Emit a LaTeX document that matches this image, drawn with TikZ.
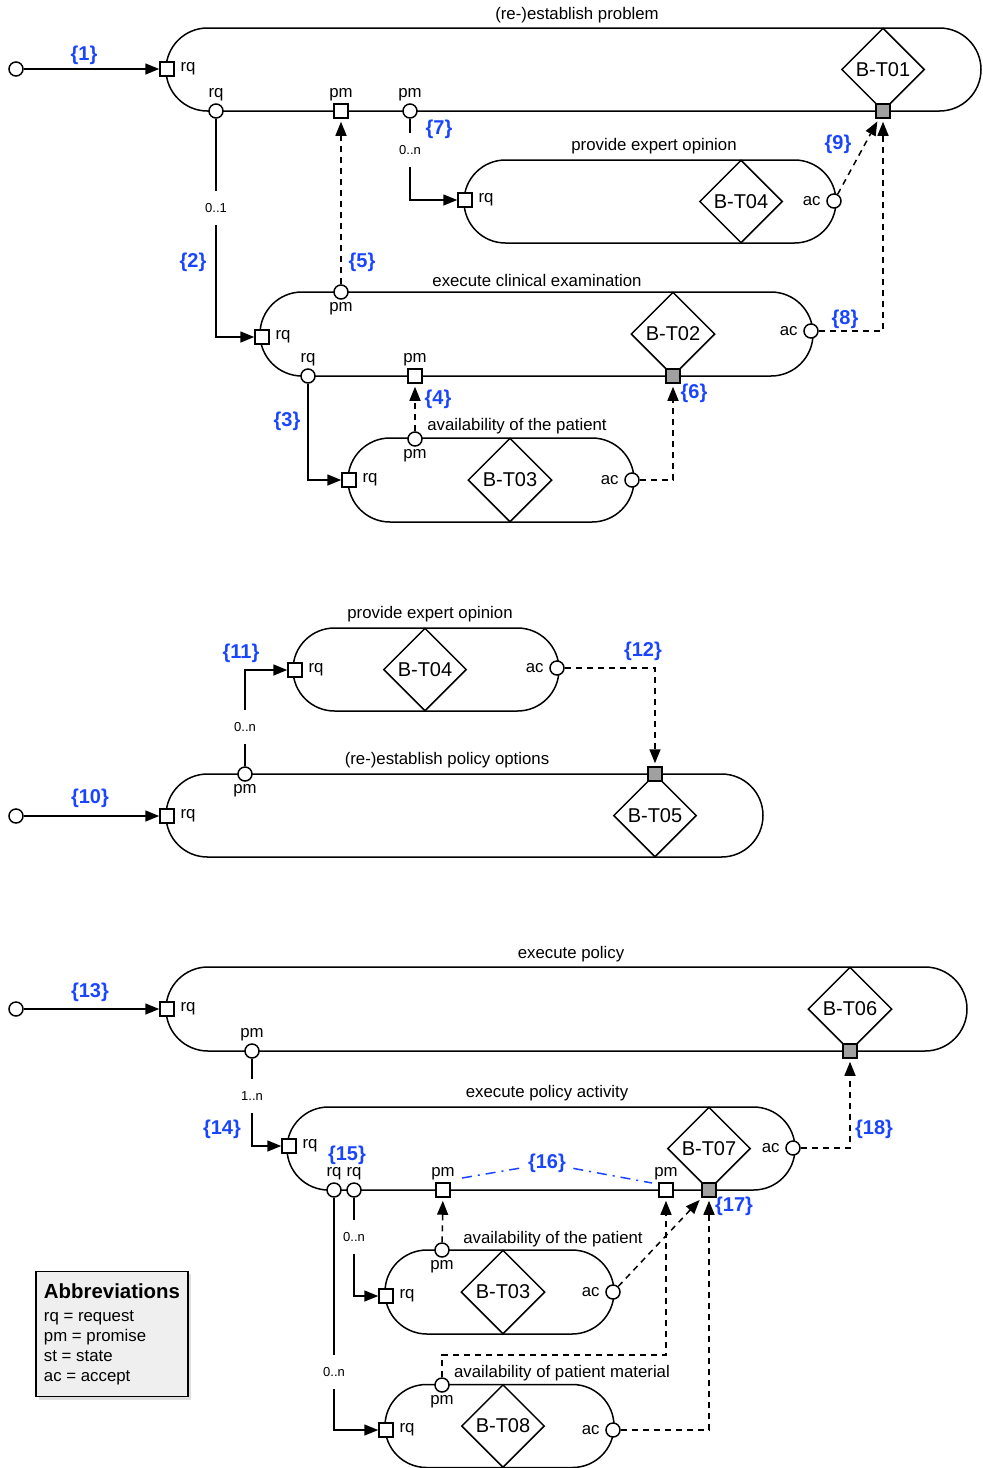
\documentclass[tikz,border=0pt]{standalone}
\usepackage{fontspec}
\setmainfont{Liberation Sans}
\usetikzlibrary{arrows.meta,shapes.geometric,shapes.misc,shadows}
\definecolor{numblue}{HTML}{1A45FF}
\definecolor{portgrey}{HTML}{A0A0A0}
\definecolor{abbrfill}{HTML}{EFEFEF}

\begin{document}
\begin{tikzpicture}[
  x=0.5pt, y=-0.5pt, line width=0.75pt,
  capsule/.style={draw, rounded rectangle, minimum height=41.5pt, inner sep=0pt},
  trans/.style={draw, diamond, minimum width=41.5pt, minimum height=41.5pt, inner sep=0pt,
                font=\fontsize{10}{12}\selectfont},
  port/.style={draw, fill=white, minimum size=7pt, inner sep=0pt},
  gport/.style={port, fill=portgrey},
  cport/.style={port, circle},
  plbl/.style={font=\fontsize{8.4}{10}\selectfont, inner sep=1pt},
  hlbl/.style={plbl, inner xsep=2.5pt},
  ttl/.style={font=\fontsize{8.4}{10}\selectfont},
  num/.style={font=\fontsize{10}{12}\selectfont\bfseries, text=numblue},
  mult/.style={font=\fontsize{6.5}{8}\selectfont, inner xsep=1pt, inner ysep=6pt},
  ar/.style={-{Triangle[length=7pt,width=5.5pt]}},
  dar/.style={ar, dash pattern=on 3pt off 2.5pt, shorten >=1.5pt},
  ddot/.style={numblue, dash pattern=on 5pt off 3pt on 1pt off 3pt},
]
\useasboundingbox (0,0) rectangle (982,1468);

% (re-)establish problem
\node[capsule, minimum width=407.5pt] (c01) at (573.5,69.5) {};
\node[ttl] (t01) at (577,15.5) {(re-)establish problem};
\node[trans] (d01) at (883,69.5) {B-T01};
\node[cport] (s1) at (16,69) {};
\node[port, label={[hlbl]right:rq}] (c01rq) at (167,69) {};
\node[cport, label={[plbl]above:rq}] (c01rqo) at (216,111) {};
\node[port, label={[plbl]above:pm}] (c01pm) at (341,111) {};
\node[cport, label={[plbl]above:pm}] (c01pmo) at (410,111) {};
\node[gport] (c01g) at (883,111) {};

% provide expert opinion
\node[capsule, minimum width=186pt] (c04a) at (650,201.5) {};
\node[ttl] (t04a) at (654,146.5) {provide expert opinion};
\node[trans] (d04a) at (741,201.5) {B-T04};
\node[port, label={[hlbl]right:rq}] (c04arq) at (465,200) {};
\node[cport, label={[hlbl]left:ac}] (c04aac) at (834,201) {};

% execute clinical examination
\node[capsule, minimum width=276.5pt, minimum height=42pt] (c02) at (536.5,334) {};
\node[ttl] (t02) at (537,280) {execute clinical examination};
\node[trans, minimum width=42pt, minimum height=42pt] (d02) at (673,334) {B-T02};
\node[cport, label={[plbl]below:pm}] (c02pm) at (341,292) {};
\node[port, label={[hlbl]right:rq}] (c02rq) at (262,337) {};
\node[cport, label={[plbl]above:rq}] (c02rqo) at (308,376) {};
\node[port, label={[plbl]above:pm}] (c02pms) at (415,376) {};
\node[gport] (c02g) at (673,376) {};
\node[cport, label={[hlbl]left:ac}] (c02ac) at (811,331) {};

% availability of the patient
\node[capsule, minimum width=143pt, minimum height=42pt] (c03a) at (491,480) {};
\node[ttl] (t03a) at (517,426.5) {availability of the patient};
\node[trans, minimum width=42pt, minimum height=42pt] (d03a) at (510,480) {B-T03};
\node[port, label={[hlbl]right:rq}] (c03arq) at (349,480) {};
\node[cport, label={[plbl]below:pm}] (c03apm) at (415,439) {};
\node[cport, label={[hlbl]left:ac}] (c03aac) at (632,480) {};

\node[mult] (m2) at (216,208) {0..1};
\node[mult] (m7) at (410,150) {0..n};

\draw[ar] (s1) -- (c01rq);
\draw (c01rqo) -- (m2);
\draw[ar] (m2) |- (c02rq);
\draw (c01pmo) -- (m7);
\draw[ar] (m7) |- (c04arq);
\draw[dar] (c02pm) -- (c01pm);
\draw[dar] (c04aac) -- (c01g);
\draw[dar] (c02ac) -| (c01g);
\draw[ar] (c02rqo) |- (c03arq);
\draw[dar] (c03apm) -- (c02pms);
\draw[dar] (c03aac) -| (c02g);

\node[num] (n1) at (84,55.5) {\{1\}};
\node[num] (n2) at (193,262.5) {\{2\}};
\node[num] (n3) at (287,421.5) {\{3\}};
\node[num] (n4) at (438,399.5) {\{4\}};
\node[num] (n5) at (362,262.5) {\{5\}};
\node[num] (n6) at (694,393.5) {\{6\}};
\node[num] (n7) at (439,129.5) {\{7\}};
\node[num] (n8) at (845,319.5) {\{8\}};
\node[num] (n9) at (838,144.5) {\{9\}};

% (re-)establish policy options
\node[capsule, minimum width=133pt] (c04b) at (426,669.5) {};
\node[ttl] (t04b) at (430,614.5) {provide expert opinion};
\node[trans] (d04b) at (425,669.5) {B-T04};
\node[port, label={[hlbl]right:rq}] (c04brq) at (295,670) {};
\node[cport, label={[hlbl]left:ac}] (c04bac) at (557,668) {};

\node[capsule, minimum width=298.5pt] (c05) at (464.5,815.5) {};
\node[ttl] (t05) at (447,760.5) {(re-)establish policy options};
\node[trans] (d05) at (655,815.5) {B-T05};
\node[cport] (s10) at (16,816) {};
\node[port, label={[hlbl]right:rq}] (c05rq) at (167,816) {};
\node[cport, label={[plbl]below:pm}] (c05pm) at (245,774) {};
\node[gport] (c05g) at (655,774) {};

\node[mult] (m11) at (245,727) {0..n};

\draw[ar] (s10) -- (c05rq);
\draw (c05pm) -- (m11);
\draw[ar] (m11) |- (c04brq);
\draw[dar] (c04bac) -| (c05g);

\node[num] (n10) at (90,798.5) {\{10\}};
\node[num] (n11) at (241,653.5) {\{11\}};
\node[num] (n12) at (643,651.5) {\{12\}};

% execute policy
\node[capsule, minimum width=400.5pt, minimum height=42pt] (c06) at (566.5,1009) {};
\node[ttl] (t06) at (571,954.5) {execute policy};
\node[trans, minimum width=42pt, minimum height=42pt] (d06) at (850,1009) {B-T06};
\node[cport] (s13) at (16,1009) {};
\node[port, label={[hlbl]right:rq}] (c06rq) at (167,1009) {};
\node[cport, label={[plbl]above:pm}] (c06pm) at (252,1051) {};
\node[gport] (c06g) at (850,1051) {};

% execute policy activity
\node[capsule, minimum width=254pt] (c07) at (541,1148.5) {};
\node[ttl] (t07) at (547,1093.5) {execute policy activity};
\node[trans] (d07) at (709,1148.5) {B-T07};
\node[port, label={[hlbl]right:rq}] (c07rq) at (289,1146) {};
\node[cport, label={[plbl]above:rq}] (c07rqa) at (334,1190) {};
\node[cport, label={[plbl]above:rq}] (c07rqb) at (354,1190) {};
\node[port, label={[plbl]above:pm}] (c07pma) at (443,1190) {};
\node[port, label={[plbl]above:pm}] (c07pmb) at (666,1190) {};
\node[gport] (c07g) at (709,1190) {};
\node[cport, label={[hlbl]left:ac}] (c07ac) at (793,1148) {};

% availability of the patient / of patient material
\node[capsule, minimum width=114.5pt, minimum height=42pt] (c03b) at (499.5,1292) {};
\node[ttl] (t03b) at (553,1239.5) {availability of the patient};
\node[trans, minimum width=42pt, minimum height=42pt] (d03b) at (503,1292) {B-T03};
\node[port, label={[hlbl]right:rq}] (c03brq) at (386,1296) {};
\node[cport, label={[plbl]below:pm}] (c03bpm) at (442,1250) {};
\node[cport, label={[hlbl]left:ac}] (c03bac) at (613,1292) {};

\node[capsule, minimum width=114.5pt] (c08) at (499.5,1426) {};
\node[ttl] (t08) at (562,1373.5) {availability of patient material};
\node[trans] (d08) at (503,1426) {B-T08};
\node[port, label={[hlbl]right:rq}] (c08rq) at (386,1430) {};
\node[cport, label={[plbl]below:pm}] (c08pm) at (442,1385) {};
\node[cport, label={[hlbl]left:ac}] (c08ac) at (613,1430) {};

\node[mult] (m14) at (252,1096) {1..n};
\node[mult] (m15a) at (354,1237) {0..n};
\node[mult] (m15b) at (334,1372) {0..n};
\coordinate (k08) at (555,1355);
\coordinate (d16a) at (462,1178);
\coordinate (d16b) at (652,1183);

\draw[ar] (s13) -- (c06rq);
\draw (c06pm) -- (m14);
\draw[ar] (m14) |- (c07rq);
\draw[dar] (c07ac) -| (c06g);
\draw (c07rqb) -- (m15a);
\draw[ar] (m15a) |- (c03brq);
\draw (c07rqa) -- (m15b);
\draw[ar] (m15b) |- (c08rq);
\draw[dar] (c03bpm) -- (c07pma);
\draw[dar] (c03bac) -- (c07g);
\draw[dar] (c08pm) |- (k08) -| (c07pmb);
\draw[dar] (c08ac) -| (c07g);

\node[num] (n13) at (90,992.5) {\{13\}};
\node[num] (n14) at (222,1129.5) {\{14\}};
\node[num] (n15) at (347,1155) {\{15\}};
\node[num] (n16) at (547,1163.5) {\{16\}};
\node[num] (n17) at (734,1206.5) {\{17\}};
\node[num] (n18) at (874,1129.5) {\{18\}};
\draw[ddot] (d16a) -- (n16) -- (d16b);

% Abbreviations
\node[draw, fill=abbrfill, drop shadow={shadow xshift=1.5pt, shadow yshift=-1.5pt, opacity=0.25},
      align=left, inner xsep=4pt, inner ysep=6pt, font=\fontsize{8.4}{10}\selectfont] (abbr) at (112,1334)
  {{\fontsize{10.2}{11}\selectfont\bfseries Abbreviations}\\[1.5pt]
   rq = request\\ pm = promise\\ st = state\\ ac = accept};
\end{tikzpicture}
\end{document}
